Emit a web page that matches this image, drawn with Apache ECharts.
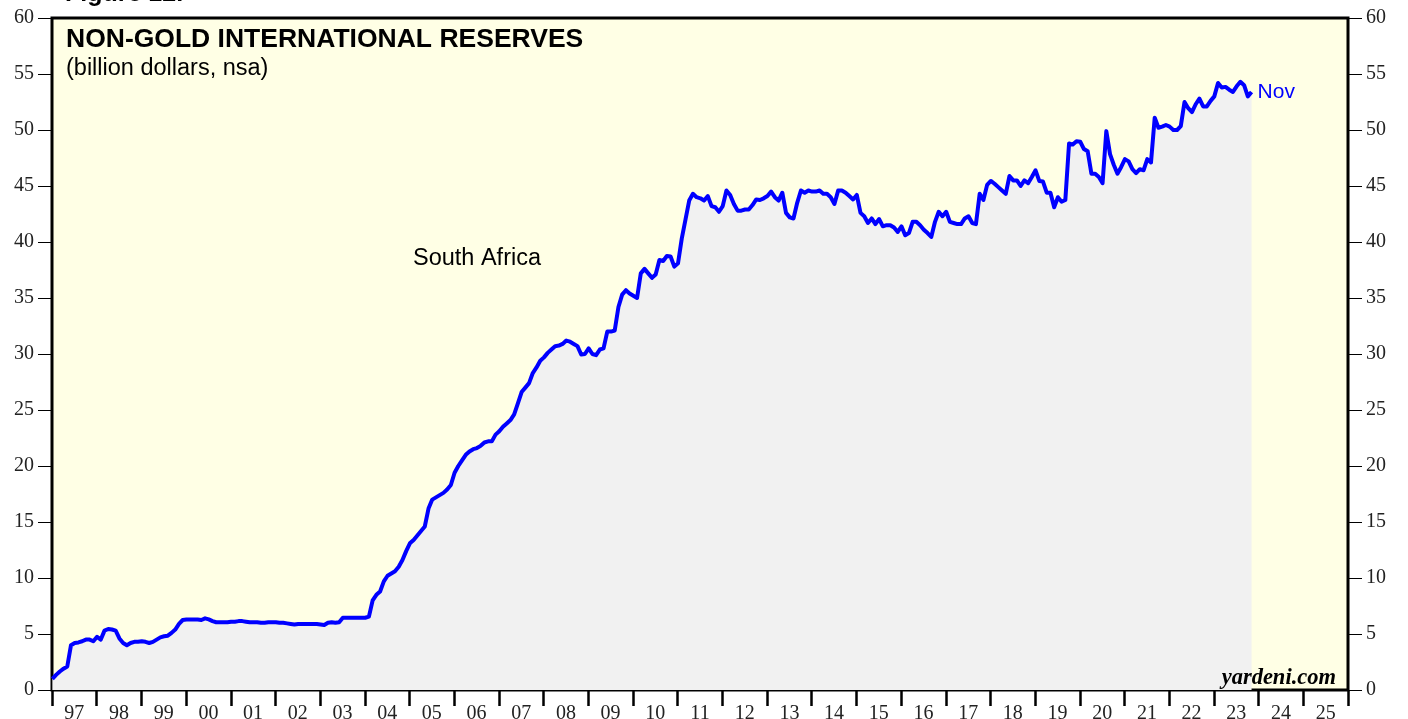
<!DOCTYPE html>
<html>
<head>
<meta charset="utf-8">
<script src="https://cdn.jsdelivr.net/npm/echarts@6/dist/echarts.min.js"></script>
<style>
  html, body { margin: 0; padding: 0; background: #fff; }
  #chart { width: 1408px; height: 719px; }
</style>
</head>
<body>
<div id="chart"></div>
<script>
// year labels under the axis
const yearLabels = ['97', '98', '99', '00', '01', '02', '03', '04', '05', '06', '07', '08', '09', '10',
  '11', '12', '13', '14', '15', '16', '17', '18', '19', '20', '21', '22', '23', '24', '25'];
const startYear = 1997;

// monthly non-gold reserves, billion dollars (Jan..Dec)
const y1997 = [1.0, 1.35, 1.65, 1.9, 2.1, 4.0, 4.2, 4.25, 4.35, 4.5, 4.5, 4.35];
const y1998 = [4.75, 4.5, 5.3, 5.45, 5.4, 5.3, 4.6, 4.2, 4.0, 4.2, 4.3, 4.3];
const y1999 = [4.35, 4.3, 4.2, 4.3, 4.5, 4.7, 4.8, 4.85, 5.1, 5.4, 5.9, 6.25];
const y2000 = [6.3, 6.3, 6.3, 6.3, 6.25, 6.4, 6.3, 6.15, 6.05, 6.05, 6.05, 6.05];
const y2001 = [6.1, 6.1, 6.15, 6.15, 6.1, 6.05, 6.05, 6.05, 6.0, 6.0, 6.05, 6.05];
const y2002 = [6.05, 6.0, 6.0, 5.95, 5.9, 5.85, 5.9, 5.9, 5.9, 5.9, 5.9, 5.9];
const y2003 = [5.85, 5.8, 6.0, 6.05, 6.0, 6.05, 6.45, 6.45, 6.45, 6.45, 6.45, 6.45];
const y2004 = [6.45, 6.55, 8.0, 8.5, 8.8, 9.7, 10.2, 10.4, 10.6, 11.0, 11.6, 12.4];
const y2005 = [13.1, 13.4, 13.8, 14.2, 14.6, 16.2, 17.0, 17.2, 17.4, 17.6, 17.9, 18.3];
const y2006 = [19.4, 20.0, 20.5, 21.0, 21.3, 21.5, 21.6, 21.8, 22.1, 22.2, 22.2, 22.8];
const y2007 = [23.1, 23.5, 23.8, 24.1, 24.6, 25.6, 26.6, 27.0, 27.4, 28.3, 28.8, 29.4];
const y2008 = [29.7, 30.1, 30.4, 30.7, 30.75, 30.9, 31.2, 31.1, 30.9, 30.7, 29.95, 30.0];
const y2009 = [30.5, 30.0, 29.9, 30.4, 30.5, 32.0, 32.0, 32.1, 34.2, 35.3, 35.7, 35.4];
const y2010 = [35.2, 35.0, 37.2, 37.6, 37.2, 36.8, 37.1, 38.4, 38.3, 38.75, 38.7, 37.8];
const y2011 = [38.1, 40.3, 42.0, 43.7, 44.3, 44.0, 43.9, 43.7, 44.1, 43.2, 43.1, 42.7];
const y2012 = [43.2, 44.6, 44.2, 43.4, 42.8, 42.8, 42.9, 42.9, 43.3, 43.8, 43.75, 43.9];
const y2013 = [44.1, 44.5, 44.0, 43.7, 44.4, 42.6, 42.2, 42.1, 43.5, 44.6, 44.4, 44.6];
const y2014 = [44.5, 44.5, 44.6, 44.3, 44.3, 44.0, 43.4, 44.6, 44.6, 44.4, 44.1, 43.8];
const y2015 = [44.2, 42.6, 42.3, 41.7, 42.1, 41.6, 42.05, 41.4, 41.5, 41.5, 41.3, 40.9];
const y2016 = [41.4, 40.6, 40.8, 41.8, 41.8, 41.5, 41.1, 40.8, 40.45, 41.8, 42.7, 42.3];
const y2017 = [42.7, 41.8, 41.7, 41.6, 41.6, 42.1, 42.3, 41.7, 41.6, 44.3, 43.75, 45.1];
const y2018 = [45.45, 45.2, 44.9, 44.6, 44.3, 45.9, 45.5, 45.5, 45.0, 45.5, 45.25, 45.8];
const y2019 = [46.4, 45.45, 45.4, 44.4, 44.4, 43.1, 44.0, 43.6, 43.75, 48.8, 48.7, 49.0];
const y2020 = [48.95, 48.3, 48.1, 46.1, 46.1, 45.8, 45.25, 49.9, 47.85, 46.9, 46.1, 46.7];
const y2021 = [47.4, 47.2, 46.5, 46.15, 46.5, 46.4, 47.4, 47.1, 51.1, 50.2, 50.3, 50.45];
const y2022 = [50.3, 50.0, 50.0, 50.35, 52.5, 51.95, 51.6, 52.3, 52.8, 52.1, 52.1, 52.6];
const y2023 = [53.0, 54.2, 53.8, 53.85, 53.6, 53.4, 53.9, 54.3, 54.0, 53.0, 53.4]; // to Nov

const reserves = [].concat(y1997, y1998, y1999, y2000, y2001, y2002, y2003, y2004, y2005,
  y2006, y2007, y2008, y2009, y2010, y2011, y2012, y2013, y2014, y2015, y2016, y2017,
  y2018, y2019, y2020, y2021, y2022, y2023);

// x position in fractional years
const seriesData = reserves.map((v, i) => [startYear + (i + 0.1) / 12, v]);

const serif = '"Liberation Serif", "DejaVu Serif", serif';
const sans = '"Liberation Sans", Arial, sans-serif';

const chart = echarts.init(document.getElementById('chart'));

const option = {
  animation: false,
  backgroundColor: '#ffffff',
  grid: {
    left: 52,
    right: 60,
    top: 18,
    bottom: 29,
    outerBoundsMode: 'none',
    show: true,
    backgroundColor: '#ffffe5',
    borderColor: '#000',
    borderWidth: 3,
  },
  xAxis: [
    {
      // value axis carrying the data (hidden)
      type: 'value',
      min: startYear,
      max: startYear + yearLabels.length,
      show: false,
    },
    {
      // year labels centred between ticks
      type: 'category',
      data: yearLabels,
      boundaryGap: true,
      position: 'bottom',
      axisLine: { show: false },
      axisTick: {
        show: true,
        length: 16,
        interval: 0,
        lineStyle: { color: '#000', width: 2.5 },
      },
      axisLabel: {
        interval: 0,
        margin: 14,
        fontFamily: serif,
        fontSize: 20,
        color: '#222',
      },
      splitLine: { show: false },
    },
  ],
  yAxis: [
    {
      type: 'value',
      position: 'left',
      min: 0,
      max: 60,
      interval: 5,
      axisLine: { show: false },
      axisTick: { show: true, length: 14, lineStyle: { color: '#000', width: 1 } },
      axisLabel: { margin: 18, fontFamily: serif, fontSize: 20, color: '#222' },
      splitLine: { show: false },
    },
    {
      type: 'value',
      position: 'right',
      min: 0,
      max: 60,
      interval: 5,
      axisLine: { show: false },
      axisTick: { show: true, length: 14, lineStyle: { color: '#000', width: 1 } },
      axisLabel: { margin: 18, fontFamily: serif, fontSize: 20, color: '#222' },
      splitLine: { show: false },
    },
  ],
  series: [
    {
      name: 'South Africa',
      type: 'line',
      xAxisIndex: 0,
      yAxisIndex: 0,
      data: seriesData,
      showSymbol: false,
      lineStyle: { color: '#0000ff', width: 4, join: 'round' },
      areaStyle: { color: '#f1f1f1', opacity: 1, origin: 'start' },
      endLabel: {
        show: true,
        formatter: 'Nov',
        color: '#0000ff',
        fontFamily: sans,
        fontSize: 21,
        distance: 6,
      },
      z: 3,
    },
  ],
  graphic: [
    {
      type: 'text',
      left: 65,
      top: -18,
      style: { text: 'Figure 12.', fontFamily: sans, fontWeight: 'bold', fontSize: 25, fill: '#000' },
    },
    {
      type: 'text',
      left: 66,
      top: 26,
      z: 10,
      style: { text: 'NON-GOLD INTERNATIONAL RESERVES', fontFamily: sans, fontWeight: 'bold', fontSize: 26.5, fill: '#000' },
    },
    {
      type: 'text',
      left: 66,
      top: 57,
      z: 10,
      style: { text: '(billion dollars, nsa)', fontFamily: sans, fontSize: 23.5, fill: '#000' },
    },
    {
      type: 'text',
      left: 413,
      top: 247,
      z: 10,
      style: { text: 'South Africa', fontFamily: sans, fontSize: 23.5, fill: '#000' },
    },
    {
      type: 'text',
      right: 72,
      top: 667,
      z: 10,
      style: { text: 'yardeni.com', fontFamily: serif, fontWeight: 'bold', fontStyle: 'italic', fontSize: 22.5, fill: '#000' },
    },
  ],
};

chart.setOption(option);
</script>
</body>
</html>
